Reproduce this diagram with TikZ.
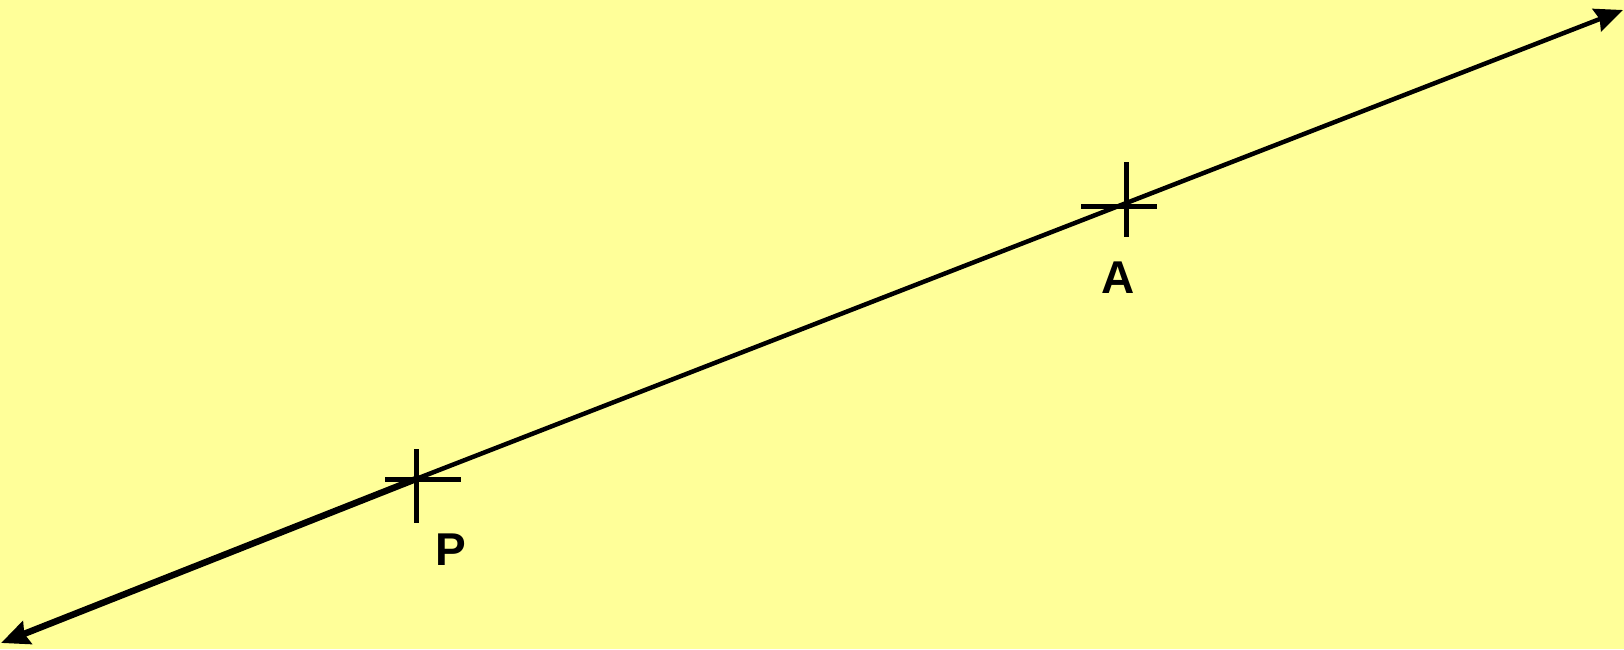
\documentclass[tikz,border=0pt]{standalone}
\usepackage{fontspec}
\setmainfont{Liberation Sans}
\usetikzlibrary{arrows.meta,calc}
\definecolor{bgyellow}{HTML}{FFFF99}
\tikzset{
  lbl/.style={font=\bfseries\fontsize{46}{46}\selectfont, inner sep=0pt},
  crossline/.style={line width=5pt},
  ray/.style={line width=4.5pt, -{Stealth[length=28pt,width=24pt,inset=3pt]}},
}
\begin{document}
\begin{tikzpicture}[x=1pt,y=-1pt]
\fill[bgyellow] (0,0) rectangle (1624,649);
\useasboundingbox (0,0) rectangle (1624,649);
\coordinate (P) at (416,479);
\coordinate (A) at (1126,206);
\coordinate (endR) at (1623,10);
\coordinate (endL) at (1,643);
% crosses
\draw[crossline] ($(P)+(0,-30)$) -- ($(P)+(0,44)$);
\draw[crossline] ($(P)+(-31,0)$) -- ($(P)+(45,0)$);
\draw[crossline] ($(A)+(0,-44)$) -- ($(A)+(0,31)$);
\draw[crossline] ($(A)+(-45,0)$) -- ($(A)+(31,0)$);
% line
\draw[ray] (P) -- (endR);
\draw[ray, line width=6.5pt] (P) -- (endL);
% labels
\node[lbl] (labA) at (1118,278) {A};
\node[lbl] (labP) at (451,550) {P};
\end{tikzpicture}
\end{document}
